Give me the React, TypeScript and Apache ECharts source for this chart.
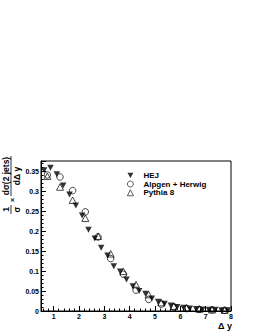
import React, { useEffect, useRef } from 'react';
import * as echarts from 'echarts';

// HEJ: bins of width 0.25
const hejDy = [0.625, 0.875, 1.125, 1.375, 1.625, 1.875, 2.125, 2.375, 2.625, 2.875, 3.125, 3.375, 3.625, 3.875, 4.125, 4.375, 4.625, 4.875, 5.125, 5.375, 5.625, 5.875, 6.125, 6.375, 6.625, 6.875, 7.125, 7.375, 7.625, 7.875];
const hejValues = [0.352, 0.358, 0.342, 0.314, 0.291, 0.264, 0.239, 0.203, 0.181, 0.158, 0.139, 0.112, 0.099, 0.079, 0.062, 0.050, 0.043, 0.031, 0.023, 0.018, 0.014, 0.010, 0.008, 0.006, 0.005, 0.004, 0.003, 0.003, 0.002, 0.002];

// Alpgen + Herwig and Pythia 8: bins of width 0.5
const mcDy = [0.75, 1.25, 1.75, 2.25, 2.75, 3.25, 3.75, 4.25, 4.75, 5.25, 5.75, 6.25, 6.75, 7.25, 7.75];
const alpgenValues = [0.340, 0.335, 0.301, 0.248, 0.185, 0.131, 0.092, 0.052, 0.029, 0.017, 0.010, 0.006, 0.004, 0.003, 0.002];
const pythiaValues = [0.337, 0.310, 0.277, 0.232, 0.187, 0.143, 0.099, 0.066, 0.041, 0.021, 0.012, 0.008, 0.005, 0.003, 0.002];

const xTickValues = [1, 2, 3, 4, 5, 6, 7, 8];
const xMinorTickValues: number[] = [];
for (let i = 6; i < 80; i += 2) {
  if (i % 10 !== 0) xMinorTickValues.push(i / 10);
}

const FONT = 'Liberation Sans, Arial, Helvetica, sans-serif';

export default function App() {
  const ref = useRef<HTMLDivElement>(null);

  useEffect(() => {
    if (!ref.current) return;
    const chart = echarts.init(ref.current, null, { renderer: 'svg' });

    const downTri = 'path://M0,0L10,0L5,9Z';

    const labelStyle = { fontFamily: FONT, fontWeight: 'bold' as const, fontSize: 8.5, fill: '#000' };

    chart.setOption({
      animation: false,
      backgroundColor: '#fff',
      grid: {
        left: 41,
        top: 161,
        width: 190,
        height: 150,
        show: true,
        borderColor: '#000',
        borderWidth: 1,
        backgroundColor: 'transparent',
      },
      xAxis: [
        {
          type: 'value',
          min: 0.5,
          max: 8,
          position: 'bottom',
          axisLine: { show: true, lineStyle: { color: '#000', width: 1 } },
          axisTick: { show: true, inside: true, length: 5, customValues: xTickValues, lineStyle: { color: '#000' } },
          axisLabel: {
            show: true,
            customValues: xTickValues,
            margin: 2,
            fontFamily: FONT,
            fontWeight: 'bold',
            fontSize: 7,
            color: '#000',
          },
          splitLine: { show: false },
        },
        {
          type: 'value',
          min: 0.5,
          max: 8,
          position: 'bottom',
          offset: 0,
          axisLine: { show: false },
          axisTick: { show: true, inside: true, length: 2.5, customValues: xMinorTickValues, lineStyle: { color: '#000' } },
          axisLabel: { show: false },
          splitLine: { show: false },
        },
      ],
      yAxis: {
        type: 'value',
        min: 0,
        max: 0.375,
        interval: 0.05,
        axisLine: { show: true, lineStyle: { color: '#000', width: 1 } },
        axisTick: { show: true, inside: true, length: 5, lineStyle: { color: '#000' } },
        minorTick: { show: true, splitNumber: 5, length: 2.5, lineStyle: { color: '#000' } },
        axisLabel: {
          showMaxLabel: false,
          margin: 2,
          fontFamily: FONT,
          fontWeight: 'bold',
          fontSize: 7,
          color: '#000',
        },
        splitLine: { show: false },
        minorSplitLine: { show: false },
      },
      legend: {
        orient: 'vertical',
        left: 127,
        top: 171,
        itemWidth: 6,
        itemHeight: 6,
        itemGap: 0,
        padding: 0,
        textStyle: {
          fontFamily: FONT,
          fontWeight: 'bold',
          fontSize: 8,
          color: '#000',
          lineHeight: 8.7,
          padding: [0, 0, 0, 5],
        },
        data: [
          { name: 'HEJ', icon: downTri, itemStyle: { color: '#000', borderWidth: 0 } },
          {
            name: 'Alpgen + Herwig',
            icon: 'circle',
            itemStyle: { color: 'rgba(0,0,0,0)', borderColor: '#000', borderWidth: 0.8 },
          },
          {
            name: 'Pythia 8',
            icon: 'triangle',
            itemStyle: { color: 'rgba(0,0,0,0)', borderColor: '#000', borderWidth: 0.8 },
          },
        ],
      },
      series: [
        {
          name: 'HEJ',
          type: 'scatter',
          xAxisIndex: 0,
          symbol: 'triangle',
          symbolRotate: 180,
          symbolSize: [6.5, 6],
          itemStyle: { color: '#000' },
          data: hejDy.map((x, i) => [x, hejValues[i]]),
          z: 3,
        },
        {
          name: 'Alpgen + Herwig',
          type: 'scatter',
          xAxisIndex: 0,
          symbol: 'circle',
          symbolSize: 6.5,
          itemStyle: { color: 'rgba(0,0,0,0)', borderColor: '#000', borderWidth: 0.9 },
          data: mcDy.map((x, i) => [x, alpgenValues[i]]),
          z: 2,
        },
        {
          name: 'Pythia 8',
          type: 'scatter',
          xAxisIndex: 0,
          symbol: 'triangle',
          symbolSize: [7, 6.5],
          itemStyle: { color: 'rgba(0,0,0,0)', borderColor: '#000', borderWidth: 0.9 },
          data: mcDy.map((x, i) => [x, pythiaValues[i]]),
          z: 2,
        },
      ],
      graphic: [
        // x-axis title
        {
          type: 'text',
          right: 258 - 232,
          top: 321,
          style: { text: 'Δ y', fontFamily: FONT, fontWeight: 'bold', fontSize: 9, fill: '#000' },
        },
        // y-axis title: 1/σ × dσ(2 jets)/dΔy, rotated
        {
          type: 'text',
          x: 6,
          y: 209.5,
          rotation: Math.PI / 2,
          style: { ...labelStyle, text: '1', textAlign: 'center', textVerticalAlign: 'middle' },
        },
        {
          type: 'line',
          shape: { x1: 11, y1: 214, x2: 11, y2: 205 },
          style: { stroke: '#000', lineWidth: 0.8 },
        },
        {
          type: 'text',
          x: 16.5,
          y: 209.5,
          rotation: Math.PI / 2,
          style: { ...labelStyle, text: 'σ', textAlign: 'center', textVerticalAlign: 'middle' },
        },
        {
          type: 'text',
          x: 12,
          y: 200,
          rotation: Math.PI / 2,
          style: { ...labelStyle, fontSize: 7, text: '×', textAlign: 'center', textVerticalAlign: 'middle' },
        },
        {
          type: 'text',
          x: 6,
          y: 176,
          rotation: Math.PI / 2,
          style: { ...labelStyle, text: 'dσ(2 jets)', textAlign: 'center', textVerticalAlign: 'middle' },
        },
        {
          type: 'line',
          shape: { x1: 11, y1: 196, x2: 11, y2: 156 },
          style: { stroke: '#000', lineWidth: 0.8 },
        },
        {
          type: 'text',
          x: 16.5,
          y: 176,
          rotation: Math.PI / 2,
          style: { ...labelStyle, text: 'dΔ y', textAlign: 'center', textVerticalAlign: 'middle' },
        },
      ],
    });

    return () => chart.dispose();
  }, []);

  return (
    <div
      ref={ref}
      style={{ position: 'fixed', left: 0, top: 0, width: 258, height: 333, background: '#fff' }}
    />
  );
}
